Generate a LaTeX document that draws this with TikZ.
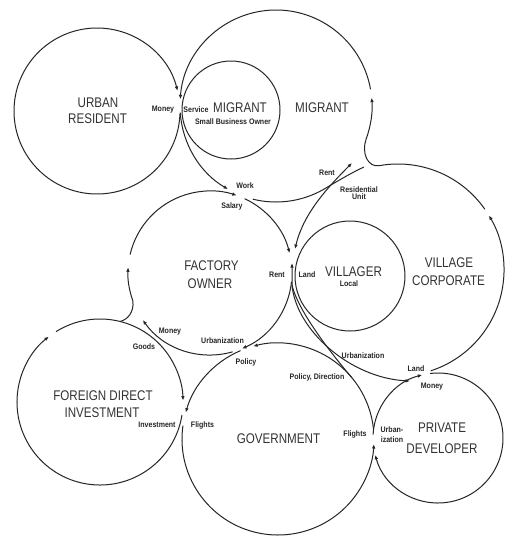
\documentclass[tikz,border=0pt]{standalone}
\usepackage{fontspec}
\usetikzlibrary{arrows.meta}
\newfontfamily\condf{Liberation Sans}[FakeStretch=0.83]
\newfontfamily\condsf{Liberation Sans}[FakeStretch=0.88]
\newcommand\bigfont{\condf\fontsize{14}{15}\selectfont}
\newcommand\smlfont{\condsf\bfseries\fontsize{8}{8}\selectfont}
\newcommand\arcon[5][ln]{\draw[#1] ([shift={(#4:#3)}]#2) arc[start angle=#4,end angle=#5,radius=#3];}
\begin{document}
\begin{tikzpicture}[x=1pt,y=-1pt,
  ln/.style={line width=1pt,draw=black!85},
  tip/.style={ln,-{Latex[length=4.5pt,width=3.6pt]}},
  tips/.style={ln,{Latex[length=4.5pt,width=3.6pt]}-{Latex[length=4.5pt,width=3.6pt]}},
  ring/.style={circle,ln,inner sep=0pt,outer sep=0pt},
  big/.style={font=\bigfont,inner sep=0pt,text=black!80},
  sml/.style={font=\smlfont,inner sep=0pt,text=black!85}]
\fill[white] (0,0) rectangle (506,539);
\useasboundingbox (0,0) rectangle (506,539);
% circle centres
\coordinate (cU) at (97,111);
\coordinate (cM) at (276,106);
\coordinate (cF) at (210,273);
\coordinate (cVC) at (398,270);
\coordinate (cD) at (100,402);
\coordinate (cG) at (278,439);
\coordinate (cP) at (438,438);
% full circles
\node[ring,minimum size=98pt] (smallbiz) at (231,110) {};
\node[ring,minimum size=110pt] (villager) at (350,276) {};
% urban resident
\arcon[tip]{cU}{83}{2}{346}
% migrant
\arcon[tip]{cM}{96}{20}{-5}
\arcon[tip]{cM}{96}{-10}{-176}
\arcon[tip]{cM}{96}{-184}{-240}
\draw[ln] ([shift={(104:96)}]cM) arc[start angle=104,end angle=60,radius=96]
  .. controls (341,179) and (353,172) .. (364,167);
% migrant to village corporate
\draw[ln] ([shift={(20:96)}]cM) .. controls (361,153) and (368,168) ..
  ([shift={(-100:106)}]cVC) arc[start angle=-100,end angle=-35,radius=106];
\arcon[tip]{cVC}{106}{72}{-31}
\draw[tips] (295,249) .. controls (303,215) and (325,190) .. (352,163);
\draw[tips] (292,263) -- (292,285) .. controls (296,330) and (350,378) .. (410,381);
\draw[ln] (292,285) .. controls (298,312) and (335,358) .. ([shift={(-40:96)}]cG);
% factory owner
\draw[tip] (120,321.5) .. controls (128,319.5) and (134,312) ..
  ([shift={(160:82)}]cF) arc[start angle=160,end angle=184,radius=82];
\arcon[tip]{cF}{82}{193}{289}
\arcon[tip]{cF}{82}{295}{346}
\arcon[tip]{cF}{82}{6}{67}
\arcon[tip]{cF}{82}{74}{145}
% foreign direct investment
\arcon[tip]{cD}{83}{-122}{-1}
\arcon[tip]{cD}{83}{9}{232}
% government
\arcon[tip]{cG}{96}{-6}{-105}
\arcon[tip]{cG}{96}{-113}{-164}
\arcon[tip]{cG}{96}{-172}{-357}
% private developer
\arcon[tip]{cP}{65}{-97}{165}
\arcon[tip]{cP}{65}{183}{256}
% big labels
\node[big] (t1) at (98,103) {URBAN};
\node[big] (t2) at (97.5,119) {RESIDENT};
\node[big] (t3) at (240,108) {MIGRANT};
\node[big] (t4) at (322,107.5) {MIGRANT};
\node[big] (t5) at (211.5,266) {FACTORY};
\node[big] (t6) at (210,283.5) {OWNER};
\node[big] (t7) at (353.5,272) {VILLAGER};
\node[big] (t8) at (449,263) {VILLAGE};
\node[big] (t9) at (448.5,281) {CORPORATE};
\node[big] (t10) at (103,396) {FOREIGN DIRECT};
\node[big] (t11) at (102,413) {INVESTMENT};
\node[big] (t12) at (278.5,438.5) {GOVERNMENT};
\node[big] (t13) at (442,428) {PRIVATE};
\node[big] (t14) at (442,449) {DEVELOPER};
% small labels
\node[sml] (s1) at (233,121.5) {Small Business Owner};
\node[sml] (s2) at (163,110) {Money};
\node[sml] (s3) at (196,110) {Service};
\node[sml] (s4) at (245,186) {Work};
\node[sml] (s5) at (232,206) {Salary};
\node[sml] (s6) at (327,173) {Rent};
\node[sml] (s7) at (359,189.5) {Residential};
\node[sml] (s8) at (359,196.5) {Unit};
\node[sml] (s9) at (277,275) {Rent};
\node[sml] (s10) at (307,275) {Land};
\node[sml] (s11) at (349,284) {Local};
\node[sml] (s12) at (170,332) {Money};
\node[sml] (s13) at (144,347) {Goods};
\node[sml] (s14) at (222.5,340.5) {Urbanization};
\node[sml] (s15) at (246,362) {Policy};
\node[sml] (s16) at (157,425) {Investment};
\node[sml] (s17) at (202.5,425) {Flights};
\node[sml] (s18) at (363,356) {Urbanization};
\node[sml] (s19) at (317,377) {Policy, Direction};
\node[sml] (s20) at (416,369) {Land};
\node[sml] (s21) at (432,387) {Money};
\node[sml] (s22) at (355,434) {Flights};
\node[sml] (s23) at (392,430) {Urban-};
\node[sml] (s24) at (392,440) {ization};
\end{tikzpicture}
\end{document}
